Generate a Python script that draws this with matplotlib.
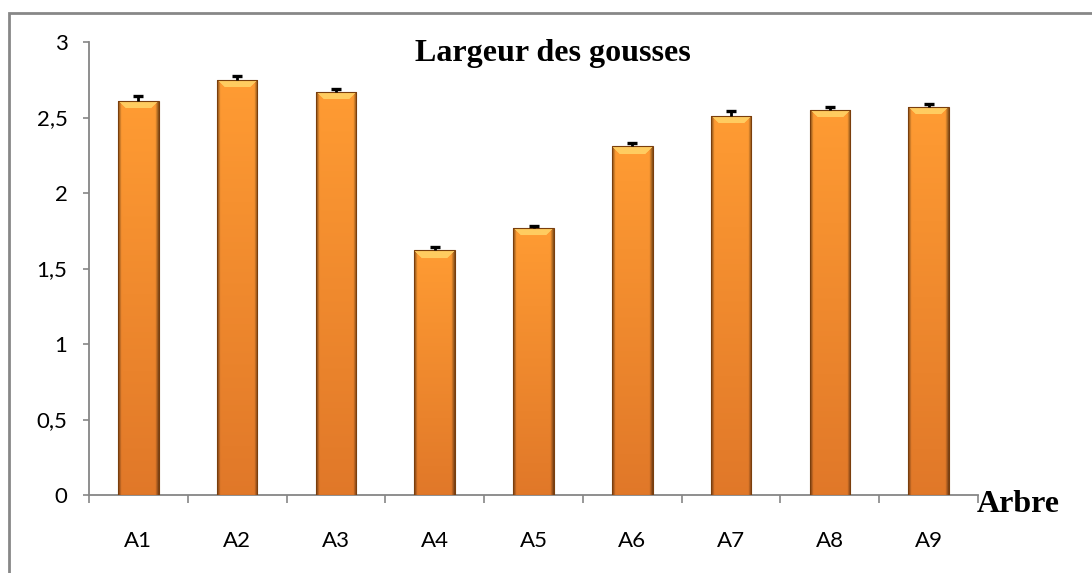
import matplotlib
matplotlib.use("Agg")
from matplotlib import pyplot as plt
from matplotlib.patches import Rectangle
import numpy as np

# Data
arbres = ["A1", "A2", "A3", "A4", "A5", "A6", "A7", "A8", "A9"]
largeur = [2.61, 2.75, 2.67, 1.62, 1.77, 2.31, 2.51, 2.55, 2.57]
erreur = [0.035, 0.022, 0.020, 0.022, 0.010, 0.020, 0.030, 0.020, 0.020]
yticks = [0, 0.5, 1, 1.5, 2, 2.5, 3]
ytick_labels = ["0", "0,5", "1", "1,5", "2", "2,5", "3"]

W, H, DPI = 10.92, 5.73, 100
fig = plt.figure(figsize=(W, H), dpi=DPI)
ax = fig.add_axes([89/1092, 78/573, 889/1092, 453/573])

grey = "#868686"
x = np.arange(len(arbres))
bw = 0.41

bars = ax.bar(x, largeur, width=bw, color="#F7952F", edgecolor="none", zorder=2)

# gradient / bevel look for each bar
top_col = np.array([1.00, 0.61, 0.20])
bot_col = np.array([0.88, 0.47, 0.16])
bevel = np.array([1.00, 0.80, 0.38])
for b, h in zip(bars, largeur):
    ny = max(int(h * 151), 2)
    nx = 40
    t = np.linspace(0, 1, ny)[:, None]          # 0 top, 1 bottom
    img = np.zeros((ny, nx, 3))
    for c in range(3):
        img[:, :, c] = top_col[c] * (1 - t) + bot_col[c] * t
    # darker side edges
    u = np.linspace(0, 1, nx)
    side = np.clip(1 - np.minimum(u, 1 - u) / 0.08, 0, 1)
    img *= (1 - 0.45 * side)[None, :, None]
    # top bevel highlight
    rows = np.arange(ny)[:, None]
    cols = np.arange(nx)[None, :]
    bev_h = 8
    mask = (rows < bev_h) & (cols >= rows) & (cols < nx - rows)
    img[mask] = bevel
    bx, by = b.get_x(), b.get_y()
    im = ax.imshow(img, extent=(bx, bx + b.get_width(), by, by + h),
                   aspect="auto", zorder=3, interpolation="bilinear")
    im.set_clip_path(b)
    ax.add_patch(Rectangle((bx, by), b.get_width(), h, fill=False,
                           edgecolor="#7A3E0C", linewidth=0.8, zorder=4))

# upper error bars only (T shape)
tops = np.array(largeur) + np.array(erreur)
ax.vlines(x, largeur, tops, color="black", linewidth=2, zorder=5)
ax.plot(x, tops, linestyle="none", marker="_", markersize=7,
        markeredgewidth=2.4, color="black", zorder=5)

ax.set_xlim(-0.5, len(arbres) - 0.5)
ax.set_ylim(0, 3)
ax.set_yticks(yticks)
ax.set_yticklabels(ytick_labels, fontsize=16, family="Lato")
ax.set_xticks(x)
ax.set_xticklabels(arbres, fontsize=16, family="Lato")
ax.set_xticks(np.arange(len(arbres) + 1) - 0.5, minor=True)
ax.tick_params(axis="x", which="major", length=0, pad=26)
ax.tick_params(axis="x", which="minor", length=6, width=1.2, color=grey, direction="out")
ax.tick_params(axis="y", length=4.5, width=1.2, color=grey, pad=11)

for s in ["top", "right"]:
    ax.spines[s].set_visible(False)
for s in ["left", "bottom"]:
    ax.spines[s].set_color(grey)
    ax.spines[s].set_linewidth(1.3)

fig.text(553/1092, 1 - 53/573, "Largeur des gousses", ha="center", va="center",
         fontsize=23, fontweight="bold", family="Liberation Serif")
fig.text(977/1092, 1 - 505/573, "Arbre", ha="left", va="center",
         fontsize=23, fontweight="bold", family="Liberation Serif")

# outer frame (continues past right and bottom edges)
fig.patches.append(Rectangle((9/1092, -0.1), 1.2, 1 - 13/573 + 0.1,
                             transform=fig.transFigure, fill=False,
                             edgecolor="#878787", linewidth=2))

fig.savefig("out.png", dpi=DPI)
